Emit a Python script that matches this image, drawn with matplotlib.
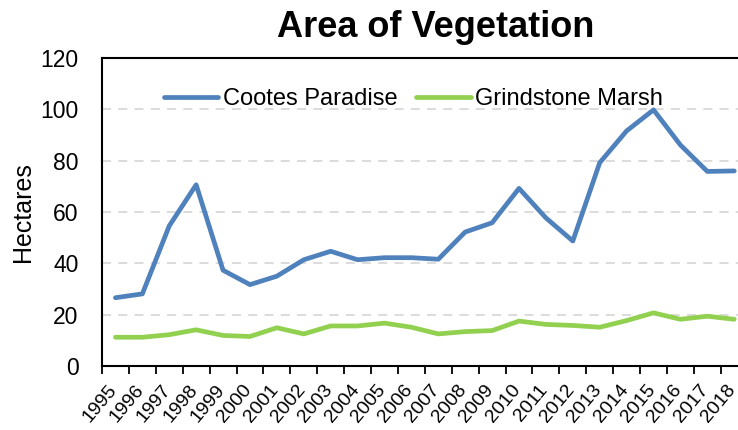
import matplotlib
matplotlib.use("Agg")
import matplotlib.pyplot as plt
import matplotlib.transforms as mtransforms
import numpy as np

plt.rcParams['font.family'] = ['Liberation Sans', 'DejaVu Sans']

years = [str(y) for y in range(1995, 2019)]
cootes = [26.6, 28.1, 54.6, 70.6, 37.3, 31.7, 35.0, 41.4, 44.7, 41.4, 42.2, 42.2,
          41.6, 52.2, 55.8, 69.2, 57.7, 48.7, 79.2, 91.6, 99.8, 86.1, 75.8, 76.0]
grindstone = [11.2, 11.2, 12.2, 14.1, 11.9, 11.5, 14.9, 12.5, 15.6, 15.6, 16.7, 15.1,
              12.5, 13.4, 13.8, 17.5, 16.2, 15.8, 15.1, 17.7, 20.7, 18.2, 19.4, 18.2]

fig = plt.figure(figsize=(7.38, 4.30), dpi=100)
ax = fig.add_axes([102/738, 64/430, 636/738, 308/430])

x = np.arange(len(years))
ax.plot(x, cootes, color='#4F81BD', lw=3.4, label='Cootes Paradise', solid_capstyle='round')
ax.plot(x, grindstone, color='#92D050', lw=3.4, label='Grindstone Marsh', solid_capstyle='round')

ax.set_xlim(-0.41, 23.14)
ax.set_ylim(0, 120)
ax.set_yticks(range(0, 121, 20))
ax.tick_params(axis='y', length=0, pad=17, labelsize=16.5)
for v in range(20, 120, 20):
    ax.axhline(v, color='#D9D9D9', lw=1.3, ls=(0, (5, 4)), zorder=0)

# labels sit under the points, tick marks sit between them
ax.set_xticks(x)
ax.set_xticklabels(years, rotation=50, ha='right', va='top', rotation_mode='anchor', fontsize=14)
ax.tick_params(axis='x', which='major', length=0, pad=11)
shift = mtransforms.ScaledTranslation(-8/100, 0, fig.dpi_scale_trans)
for lab in ax.get_xticklabels():
    lab.set_transform(lab.get_transform() + shift)
ax.set_xticks(np.arange(-0.5, 23.5, 1), minor=True)
ax.tick_params(axis='x', which='minor', length=6, width=1.3, direction='out')

for s in ax.spines.values():
    s.set_linewidth(1.5)
ax.spines['right'].set_visible(False)

ax.set_ylabel('Hectares', fontsize=18, labelpad=4)
fig.text(0.59, 1 - 37/430, 'Area of Vegetation', fontsize=26, fontweight='bold',
         ha='center', va='baseline')

ax.legend(loc='center', bbox_to_anchor=(0.49, 0.867), ncol=2, frameon=False, fontsize=17,
          handlelength=2.3, handletextpad=0.2, columnspacing=0.8)

fig.savefig('out.png', dpi=100)
